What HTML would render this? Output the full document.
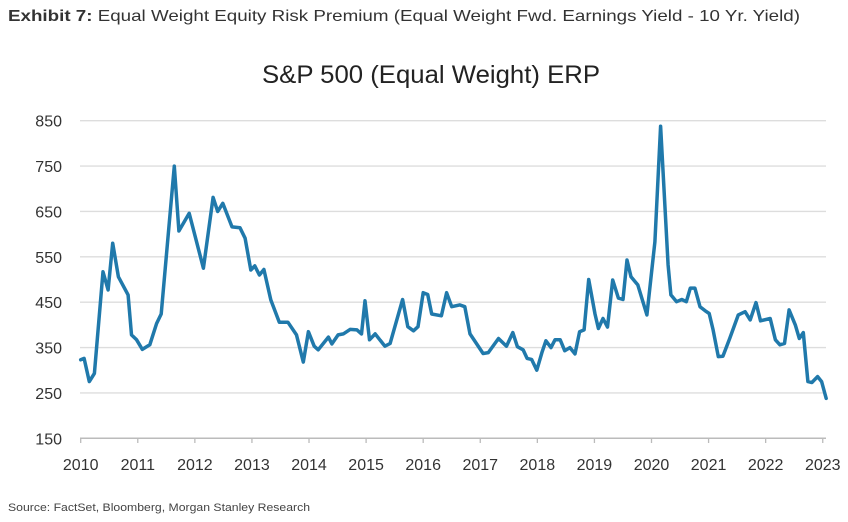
<!DOCTYPE html>
<html><head><meta charset="utf-8"><style>
html,body{margin:0;padding:0;background:#fff;}
body{width:848px;height:517px;overflow:hidden;font-family:"Liberation Sans",sans-serif;}
</style></head><body>
<svg width="848" height="517" viewBox="0 0 848 517" xmlns="http://www.w3.org/2000/svg">
<text x="8" y="21" font-size="16" fill="#333" textLength="792" lengthAdjust="spacingAndGlyphs"><tspan font-weight="bold">Exhibit 7:</tspan> Equal Weight Equity Risk Premium (Equal Weight Fwd. Earnings Yield - 10 Yr. Yield)</text>
<text x="431" y="83" font-size="25" fill="#222" text-anchor="middle" textLength="338" lengthAdjust="spacingAndGlyphs">S&amp;P 500 (Equal Weight) ERP</text>
<g id="grid"></g><g id="yticks"></g><g id="xticks"></g>
<path id="line" fill="none" stroke="#2079ab" stroke-width="3.5" stroke-linejoin="round" stroke-linecap="round"/>
<text x="8" y="511" font-size="11" fill="#444" textLength="302" lengthAdjust="spacingAndGlyphs">Source: FactSet, Bloomberg, Morgan Stanley Research</text>
</svg>
<script>
const years=[2010.0,2010.06,2010.15,2010.24,2010.39,2010.48,2010.56,2010.66,2010.83,2010.89,2010.98,2011.08,2011.21,2011.33,2011.41,2011.64,2011.72,2011.90,2012.15,2012.32,2012.40,2012.49,2012.65,2012.79,2012.88,2012.98,2013.05,2013.13,2013.21,2013.33,2013.48,2013.63,2013.78,2013.90,2013.99,2014.09,2014.16,2014.34,2014.40,2014.51,2014.60,2014.72,2014.84,2014.92,2014.98,2015.06,2015.16,2015.33,2015.42,2015.64,2015.73,2015.83,2015.91,2016.00,2016.08,2016.15,2016.32,2016.41,2016.50,2016.64,2016.73,2016.82,2017.05,2017.14,2017.32,2017.46,2017.57,2017.65,2017.75,2017.82,2017.90,2017.99,2018.08,2018.15,2018.24,2018.31,2018.40,2018.48,2018.57,2018.66,2018.74,2018.82,2018.90,2019.01,2019.07,2019.15,2019.23,2019.32,2019.42,2019.50,2019.57,2019.64,2019.76,2019.92,2020.06,2020.16,2020.29,2020.34,2020.44,2020.53,2020.61,2020.68,2020.76,2020.85,2020.94,2021.01,2021.08,2021.17,2021.25,2021.37,2021.52,2021.64,2021.73,2021.83,2021.91,2022.08,2022.17,2022.25,2022.33,2022.41,2022.52,2022.59,2022.66,2022.74,2022.81,2022.91,2022.98,2023.06];
const values=[323,326,275,293,517,477,580,506,466,378,367,346,356,403,424,750,607,646,525,681,650,668,616,614,591,521,530,510,522,455,406,406,378,318,385,353,345,373,358,378,380,390,389,380,453,367,380,353,359,456,396,387,396,471,467,424,420,471,440,444,440,380,337,339,370,353,383,352,345,326,324,300,339,365,350,367,367,343,350,336,385,389,500,424,392,414,395,499,459,456,543,506,488,422,583,838,532,466,451,456,451,481,481,440,431,425,389,330,331,370,422,429,411,449,409,414,367,356,359,433,400,370,383,275,273,286,275,238];
const yTicks=[150,250,350,450,550,650,750,850];
const xTicks=[2010,2011,2012,2013,2014,2015,2016,2017,2018,2019,2020,2021,2022,2023];
const NS="http://www.w3.org/2000/svg";
const X=v=>80.7+(v-2010)*57.08;
const Y=v=>438.3-(v-150)*0.4537;
function mk(tag,at,parent,txt){const e=document.createElementNS(NS,tag);for(const k in at)e.setAttribute(k,at[k]);if(txt!==undefined)e.textContent=txt;document.getElementById(parent).appendChild(e);return e;}
yTicks.forEach(t=>{
 const g=mk('line',{x1:80,x2:826,y1:Y(t),y2:Y(t),stroke:t===150?'#bbb':'#ddd','stroke-width':t===150?1.5:1.3},'grid');
 
 
 const l=mk('text',{x:62,y:Y(t)+6,'text-anchor':'end','font-size':16,fill:'#333'},'yticks',String(t));
 
 
});
xTicks.forEach(t=>{
 const m=mk('line',{x1:X(t),x2:X(t),y1:438,y2:443,stroke:'#bbb','stroke-width':1.3},'xticks');
 
 
 const l=mk('text',{x:X(t),y:470,'text-anchor':'middle','font-size':16,fill:'#333'},'xticks',String(t));
 
 
});
document.getElementById('line').setAttribute('d',years.map((y,i)=>(i?'L':'M')+X(y).toFixed(1)+','+Y(values[i]).toFixed(1)).join(''));
</script>
</body></html>
